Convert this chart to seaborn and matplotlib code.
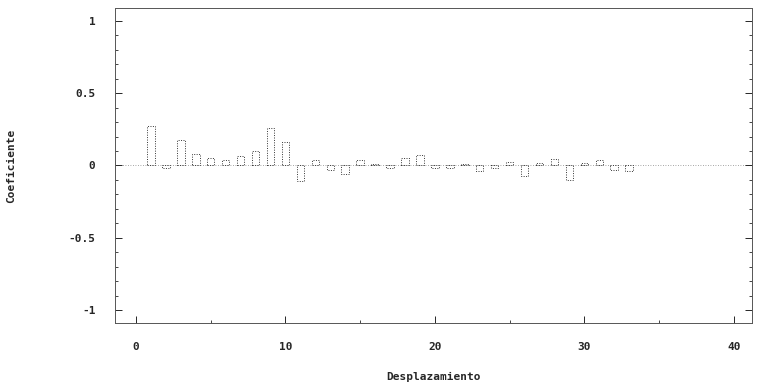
import matplotlib
matplotlib.use("Agg")
import matplotlib.pyplot as plt
import seaborn as sns
import numpy as np
from matplotlib.ticker import MultipleLocator

lags = list(range(1, 34))
coef = [0.27, -0.02, 0.175, 0.08, 0.05, 0.04, 0.065, 0.10, 0.26, 0.165,
        -0.11, 0.035, -0.03, -0.06, 0.04, 0.01, -0.02, 0.05, 0.075, -0.02,
        -0.02, 0.01, -0.04, -0.02, 0.025, -0.07, 0.02, 0.045, -0.10, 0.015,
        0.04, -0.03, -0.04]

xticks = [0, 10, 20, 30, 40]
yticks = [-1, -0.5, 0, 0.5, 1]
yticklabels = ["-1", "-0.5", "0", "0.5", "1"]

sns.set_style("white")
plt.rcParams['font.family'] = ['DejaVu Sans Mono', 'DejaVu Sans']

fig = plt.figure(figsize=(7.57, 3.92), dpi=100)
ax = fig.add_axes([0.152, 0.176, 0.841, 0.804])

ax.axhline(0, color="#888888", lw=0.6, ls=(0, (1, 2)), zorder=0)
sns.barplot(x=lags, y=coef, native_scale=True, fill=False, width=0.5,
            edgecolor="#333333", linewidth=0.7, linestyle=(0, (1, 1.5)),
            errorbar=None, ax=ax)

ax.set_xlim(-1.4, 41.2)
ax.set_ylim(-1.09, 1.09)
ax.set_xticks(xticks)
ax.set_xticklabels([str(t) for t in xticks], fontweight="bold", fontsize=8)
ax.set_yticks(yticks)
ax.set_yticklabels(yticklabels, fontweight="bold", fontsize=8)
ax.yaxis.set_minor_locator(MultipleLocator(0.1))
ax.xaxis.set_minor_locator(MultipleLocator(5))
ax.tick_params(axis="both", which="major", direction="in", length=5, width=0.7,
               left=True, right=True, bottom=True, top=False, pad=14)
ax.tick_params(axis="both", which="minor", direction="in", length=2.5, width=0.6,
               left=True, right=True, bottom=True, top=False)
ax.tick_params(axis="x", pad=14)

for s in ax.spines.values():
    s.set_visible(True)
    s.set_color("#555555")
    s.set_linewidth(0.7)
    s.set_linestyle((0, (2, 1)))

ax.set_xlabel("Desplazamiento", fontweight="bold", fontsize=8, labelpad=14)
ax.set_ylabel("Coeficiente", fontweight="bold", fontsize=8, labelpad=38)

fig.savefig("out.png", dpi=100)
